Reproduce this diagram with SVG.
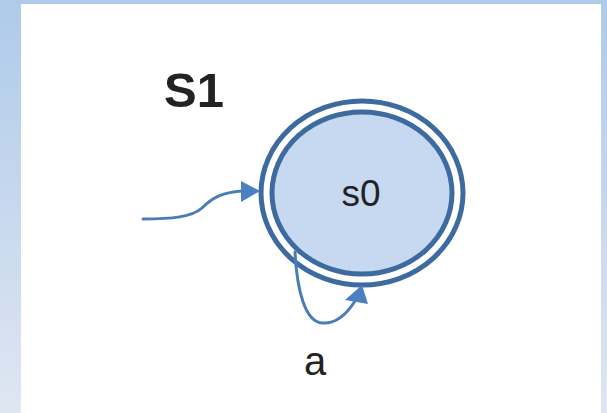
<svg xmlns="http://www.w3.org/2000/svg" width="607" height="413" viewBox="0 0 607 413">
  <defs>
    <linearGradient id="bg" x1="0" y1="0" x2="0" y2="1">
      <stop offset="0" stop-color="#afcaea"/>
      <stop offset="1" stop-color="#dfe6f2"/>
    </linearGradient>
    <style>
      .ring { fill: none; stroke: #3d6b9f; stroke-width: 5; }
      .edge { fill: none; stroke: #4a7db8; stroke-width: 3; stroke-linecap: round; }
      .head { fill: #4a80c2; }
      .lbl { font-family: "Liberation Sans", Arial, sans-serif; fill: #222; }
    </style>
  </defs>
  <rect x="0" y="0" width="607" height="413" fill="url(#bg)"/>
  <rect x="21" y="4" width="580" height="409" fill="#ffffff"/>

  <g id="title">
    <text class="lbl" x="164" y="107" font-size="49" font-weight="bold" fill="#111">S1</text>
  </g>

  <g id="node-s0">
    <ellipse cx="362" cy="193" rx="101" ry="92" class="ring"/>
    <ellipse cx="362" cy="193" rx="90" ry="81" fill="#c6d9f0" stroke="#3d6b9f" stroke-width="5"/>
    <text class="lbl" x="361" y="206" font-size="37" text-anchor="middle" fill="#333">s0</text>
  </g>

  <g id="connectors">
    <path class="edge" d="M143,219 C172,219 192,217 202,208 C212,198 222,192 244,191"/>
    <polygon class="head" points="241,181 241,202 260,191"/>
    <path class="edge" d="M295,252 C297,290 305,323 323,323 C338,324 348,312 355,301"/>
    <polygon class="head" points="345,300 368,304 362,285"/>
    <text class="lbl" x="315" y="375" font-size="40" text-anchor="middle" fill="#333">a</text>
  </g>
</svg>
